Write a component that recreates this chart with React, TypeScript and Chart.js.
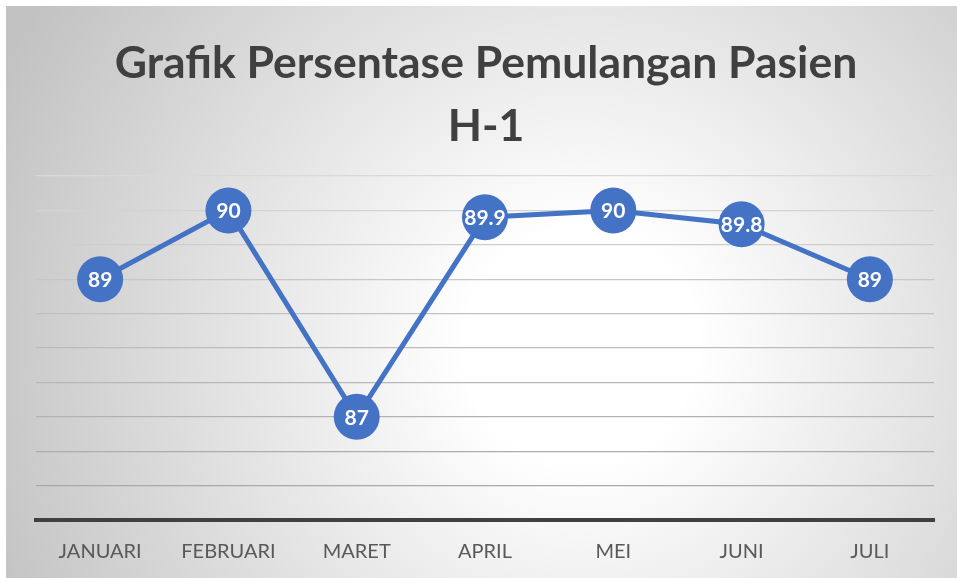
import React, { useEffect, useRef } from "react";
import { Chart, registerables } from "chart.js";

Chart.register(...registerables);

const categories = ["JANUARI", "FEBRUARI", "MARET", "APRIL", "MEI", "JUNI", "JULI"];
const values = [89, 90, 87, 89.9, 90, 89.8, 89];
const valueLabels = ["89", "90", "87", "89.9", "90", "89.8", "89"];
const titleLines = ["Grafik Persentase Pemulangan Pasien", "H-1"];
const yMin = 85.5;
const yMax = 90.5;
const yStep = 0.5;

const bgPlugin = {
  id: "bgGradient",
  beforeDraw(chart: any) {
    const { ctx, width, height } = chart;
    ctx.save();
    const cx = 575;
    const cy = 340;
    const g = ctx.createRadialGradient(cx, cy, 0, cx, cy, 640);
    g.addColorStop(0, "#ffffff");
    g.addColorStop(0.18, "#ffffff");
    g.addColorStop(1, "#c2c2c2");
    ctx.fillStyle = g;
    ctx.fillRect(0, 0, width, height);
    ctx.restore();
  },
};

const labelPlugin = {
  id: "pointLabels",
  afterDatasetsDraw(chart: any) {
    const { ctx } = chart;
    const meta = chart.getDatasetMeta(0);
    ctx.save();
    ctx.fillStyle = "#ffffff";
    ctx.font = "bold 21px Lato";
    ctx.textAlign = "center";
    ctx.textBaseline = "middle";
    meta.data.forEach((pt: any, i: number) => {
      ctx.fillText(valueLabels[i], pt.x, pt.y + 1);
    });
    ctx.restore();
  },
};

export default function App() {
  const ref = useRef<HTMLCanvasElement>(null);
  useEffect(() => {
    if (!ref.current) return;
    const gridColors = ["#a6a6a6", "#a9a9a9", "#adadad", "#b2b2b2", "#b7b7b7", "#bcbcbc", "#c1c1c1", "#c7c7c7", "#cdcdcd", "#d3d3d3", "#d9d9d9"];
    const chart = new Chart(ref.current, {
      type: "line",
      data: {
        labels: categories,
        datasets: [
          {
            data: values,
            borderColor: "#4472C4",
            backgroundColor: "#4472C4",
            borderWidth: 5,
            pointRadius: 23,
            pointHoverRadius: 23,
            pointBackgroundColor: "#4472C4",
            pointBorderColor: "#4472C4",
            pointBorderWidth: 0,
            tension: 0,
            clip: false as any,
          },
        ],
      },
      options: {
        animation: false,
        responsive: true,
        maintainAspectRatio: false,
        layout: { padding: { left: 30, right: 21, top: 26, bottom: 0 } },
        plugins: {
          legend: { display: false },
          tooltip: { enabled: false },
          title: {
            display: true,
            text: titleLines,
            color: "#404040",
            font: { family: "Lato", weight: "bold", size: 44.5, lineHeight: 63 / 44.5 },
            padding: { top: 0, bottom: 18 },
          },
        },
        scales: {
          x: {
            offset: true,
            grid: { display: false, drawTicks: false },
            border: { display: true, color: "#404040", width: 4 },
            ticks: {
              color: "#595959",
              font: { family: "Lato", size: 20 },
              padding: 20,
            },
          },
          y: {
            min: yMin,
            max: yMax,
            ticks: { display: false, stepSize: yStep },
            border: { display: false },
            grid: {
              drawTicks: false,
              lineWidth: 1.3,
              color: (c: any) => gridColors[c.index] || "#c0c0c0",
            },
          },
        },
      },
      plugins: [bgPlugin, labelPlugin],
    });
    return () => chart.destroy();
  }, []);
  return (
    <div style={{ position: "fixed", left: 0, top: 0, width: 957, height: 578, background: "#ffffff", overflow: "hidden" }}>
      <div style={{ position: "absolute", left: 6, top: 6, width: 951, height: 578 }}>
        <canvas ref={ref} />
      </div>
    </div>
  );
}
